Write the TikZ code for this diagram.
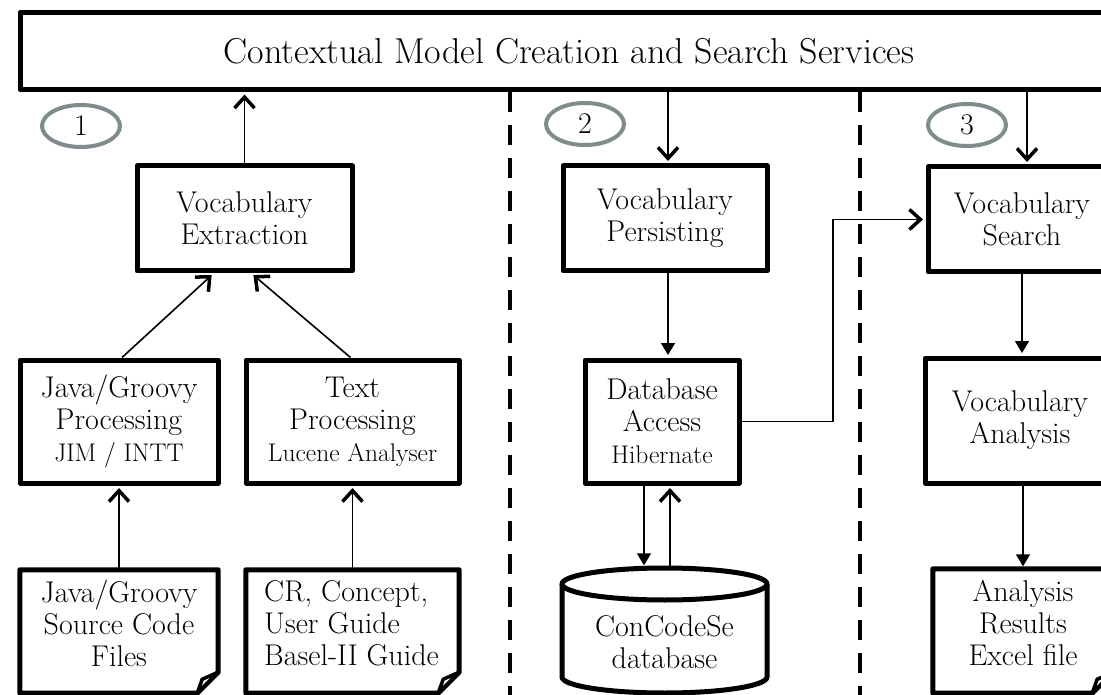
\documentclass[tikz,border=0pt]{standalone}
\usetikzlibrary{arrows.meta,calc,shapes.geometric}
\definecolor{circgray}{RGB}{127,140,141}
\newcommand\mainf{\fontsize{30}{32}\selectfont}
\newcommand\smallf{\fontsize{25.5}{30}\selectfont}
\newcommand\topf{\fontsize{36}{40}\selectfont}
\newcommand\numf{\fontsize{30}{32}\selectfont}
\tikzset{
  box/.style={draw, line width=5pt, rectangle, inner sep=0pt, align=center, font=\mainf, line join=round},
  doc/.style={rectangle, inner sep=0pt, align=center, font=\mainf},
  docline/.style={line width=5pt, line join=round},
  num/.style={ellipse, draw=circgray, line width=4pt, minimum width=78pt, minimum height=42pt, inner sep=0pt, font=\numf},
  con/.style={line width=1.6pt, shorten >=2.5pt},
  vee/.style={-{Straight Barb[length=11pt,width=20pt,line width=3.5pt]}},
  tri/.style={-{Triangle[length=12pt,width=14pt]}},
  sep/.style={line width=4.5pt, dash pattern=on 20pt off 13pt}
}
\begin{document}
\begin{tikzpicture}[x=1pt,y=-1pt]
\useasboundingbox (0,0) rectangle (1101,695);
\clip (0,0) rectangle (1101,695);
\fill[white] (0,0) rectangle (1101,695);

% separators
\coordinate (d1t) at (510,92); \coordinate (d1b) at (510,700);
\coordinate (d2t) at (860,92); \coordinate (d2b) at (860,700);
\draw[sep] (d1t) -- (d1b);
\draw[sep] (d2t) -- (d2b);

% top bar
\node[box, minimum width=1098pt, minimum height=77pt, font=\topf] (top) at (569,51) {Contextual Model Creation and Search Services};

% step numbers
\node[num] (n1) at (81,126) {1};
\node[num] (n2) at (585,124) {2};
\node[num] (n3) at (967,125) {3};

% column 1
\node[box, minimum width=215pt, minimum height=105pt] (ext) at (244.5,218.5) {Vocabulary\\Extraction};
\node[box, minimum width=198pt, minimum height=123pt] (jproc) at (119,421.5) {Java/Groovy\\Processing\\{\smallf JIM / INTT}};
\node[box, minimum width=213pt, minimum height=123pt] (tproc) at (352.5,421.5) {Text\\Processing\\{\smallf Lucene Analyser}};
\node[doc, minimum width=198pt, minimum height=123pt] (jdoc) at (119,631.5) {};
\node[doc, minimum width=213pt, minimum height=123pt] (tdoc) at (352.5,631.5) {};

% column 2
\node[box, minimum width=204pt, minimum height=105pt] (pers) at (665,218.5) {Vocabulary\\Persisting};
\node[box, minimum width=154pt, minimum height=123pt] (dba) at (662,421.5) {Database\\Access\\{\smallf Hibernate}};
\node[doc, minimum width=205pt, minimum height=125pt] (cyl) at (664.5,630.5) {};

% column 3
\node[box, minimum width=188pt, minimum height=105pt] (srch) at (1022,219.5) {Vocabulary\\Search};
\node[box, minimum width=190pt, minimum height=125pt] (ana) at (1020,420.5) {Vocabulary\\Analysis};
\node[doc, minimum width=180pt, minimum height=124pt] (res) at (1023,631) {};

% document outlines
\foreach \d in {jdoc,tdoc,res}{
  \draw[docline, fill=white] (\d.north west) -- (\d.north east) -- ($(\d.south east)+(0,-21)$) -- ($(\d.south east)+(-21,0)$) -- (\d.south west) -- cycle;
  \draw[line width=3.5pt, line join=round, fill=white] ($(\d.south east)+(0,-21)$) -- ($(\d.south east)+(-16,-14)$) -- ($(\d.south east)+(-21,0)$) -- cycle;
}
\node[doc] (jdoctext) at ($(jdoc)+(0,-8)$) {Java/Groovy\\Source Code\\Files};
\node[doc, align=left] (tdoctext) at ($(tdoc)+(-1,-8)$) {CR, Concept,\\User Guide\\Basel-II Guide};
\node[doc] (restext) at ($(res)+(0,-8)$) {Analysis\\Results\\Excel file};

% cylinder outline
\draw[docline, fill=white] (562,584) -- (562,677) arc[start angle=180, end angle=360, x radius=102.5pt, y radius=16pt] -- (767,584);
\draw[docline] (664.5,584) ellipse[x radius=102.5pt, y radius=16pt];
\node[doc] (cyltext) at (664.5,642) {ConCodeSe\\database};

% connectors column 1
\draw[con,vee] (ext.north) -- (ext.north |- top.south);
\draw[con,vee] ($(jproc.north)+(3,0)$) -- ($(ext.south)+(-31,0)$);
\draw[con,vee] ($(tproc.north)+(-2,0)$) -- ($(ext.south)+(7,0)$);
\draw[con,vee] (jdoc.north) -- (jproc.south);
\draw[con,vee] (tdoc.north) -- (tproc.south);

% connectors column 2
\draw[con,vee] ($(top.south -| pers.north)+(3,0)$) -- ($(pers.north)+(3,0)$);
\draw[con,tri] ($(pers.south)+(3,0)$) -- ($(dba.north -| pers.south)+(3,0)$);
\draw[con,tri] ($(dba.south)+(-18,0)$) -- ($(cyl.north)+(-20.5,0)$);
\draw[con,vee] ($(cyl.north)+(5.5,0)$) -- ($(dba.south)+(8,0)$);
\coordinate (bend) at (833,219.5);
\draw[con,vee] (dba.east) -| (bend) -- (srch.west);

% connectors column 3
\draw[con,vee] ($(top.south -| srch.north)+(5,0)$) -- ($(srch.north)+(5,0)$);
\draw[con,tri] (srch.south) -- (srch.south |- ana.north);
\draw[con,tri] (res.north |- ana.south) -- (res.north);
\end{tikzpicture}
\end{document}
